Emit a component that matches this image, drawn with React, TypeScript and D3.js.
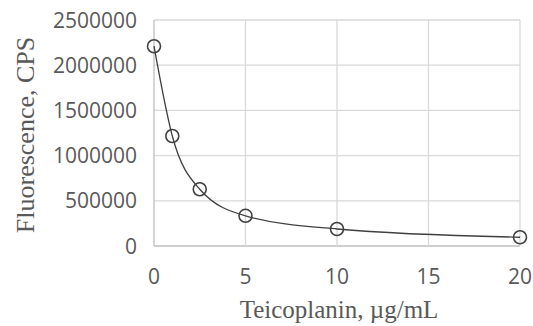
import React from 'react';
import * as d3 from 'd3';

// Teicoplanin concentration (µg/mL) vs fluorescence (CPS)
const concentrations = [0, 1, 2.5, 5, 10, 20];
const fluorescence = [2210000, 1217000, 628000, 334000, 188000, 97000];
const xTicks = [0, 5, 10, 15, 20];
const yTicks = [0, 500000, 1000000, 1500000, 2000000, 2500000];

const width = 533;
const height = 326;
const margin = { top: 20, right: 13, bottom: 80, left: 154 };

const App: React.FC = () => {
  const x = d3.scaleLinear()
    .domain([0, 20])
    .range([margin.left, width - margin.right]);

  const y = d3.scaleLinear()
    .domain([0, 2500000])
    .range([height - margin.bottom, margin.top]);

  const points: [number, number][] = concentrations.map((c, i) => [c, fluorescence[i]]);

  const line = d3.line<[number, number]>()
    .x(d => x(d[0]))
    .y(d => y(d[1]))
    .curve(d3.curveMonotoneX);

  const tickFont = "'Open Sans', 'Liberation Sans', sans-serif";
  const titleFont = "'Liberation Serif', 'DejaVu Serif', serif";

  return (
    <svg width={width} height={height} style={{ position: 'absolute', left: 0, top: 0 }}>
      <rect width={width} height={height} fill="#fff" />

      {/* grid */}
      {yTicks.map(t => (
        <line key={'gy' + t} x1={x(0)} x2={x(20)} y1={y(t)} y2={y(t)}
          stroke={t === 0 ? '#bfbfbf' : '#d9d9d9'} strokeWidth={1.3} />
      ))}
      {xTicks.map(t => (
        <line key={'gx' + t} x1={x(t)} x2={x(t)} y1={y(0)} y2={y(2500000)}
          stroke={t === 0 ? '#bfbfbf' : '#d9d9d9'} strokeWidth={1.3} />
      ))}

      {/* y tick labels */}
      {yTicks.map(t => (
        <text key={'ty' + t} x={x(0) - 17} y={y(t)} dy="0.36em" textAnchor="end"
          fontFamily={tickFont} fontSize={21} fill="#595959">{t}</text>
      ))}

      {/* x tick labels */}
      {xTicks.map(t => (
        <text key={'tx' + t} x={x(t)} y={284} textAnchor="middle"
          fontFamily={tickFont} fontSize={21} fill="#595959">{t}</text>
      ))}

      {/* fitted curve */}
      <path d={line(points) ?? ''} fill="none" stroke="#404040" strokeWidth={1.3} />

      {/* markers */}
      {points.map((d, i) => (
        <circle key={'p' + i} cx={x(d[0])} cy={y(d[1])} r={6.5}
          fill="none" stroke="#404040" strokeWidth={1.6} />
      ))}

      {/* axis titles */}
      <text x={339} y={318} textAnchor="middle" fontFamily={titleFont} fontSize={25} fill="#595959">
        Teicoplanin, µg/mL
      </text>
      <text transform="translate(34,135) rotate(-90)" textAnchor="middle"
        fontFamily={titleFont} fontSize={26} fill="#595959">
        Fluorescence, CPS
      </text>
    </svg>
  );
};

export default App;
